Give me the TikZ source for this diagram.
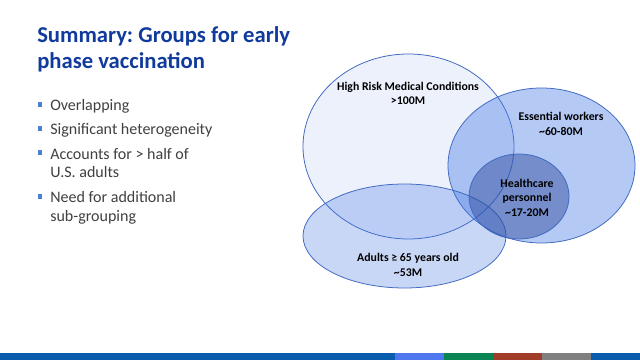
\documentclass[tikz,border=0pt]{standalone}
\usepackage{fontspec}
\setmainfont{Carlito}
\frenchspacing
\begin{document}
\begin{tikzpicture}[x=0.25mm,y=-0.25mm,
  setcircle/.style={draw=setline, line width=0.55pt},
  vlabel/.style={align=center, font=\fontsize{8.4}{10.3}\selectfont\bfseries, text=black, inner sep=0pt},
  btext/.style={anchor=base west, align=left, font=\fontsize{11.4}{13.2}\selectfont, text=bodygray, inner sep=0pt},
  bsq/.style={fill=bulletblue, minimum size=3.2pt, inner sep=0pt, draw=none},
  barseg/.style={draw=none}]
\definecolor{titleblue}{RGB}{16,58,156}
\definecolor{bodygray}{RGB}{64,64,64}
\definecolor{bulletblue}{RGB}{74,127,216}
\definecolor{setline}{RGB}{64,105,192}
\definecolor{setfill}{RGB}{70,120,230}
\definecolor{hcfill}{RGB}{40,70,150}
\definecolor{barblue}{RGB}{10,92,173}
\definecolor{barlight}{RGB}{79,120,240}
\definecolor{bargreen}{RGB}{11,132,84}
\definecolor{barred}{RGB}{160,60,40}
\definecolor{bargray}{RGB}{128,128,128}
\useasboundingbox (0,0) rectangle (640,360);
\fill[white] (0,0) rectangle (640,360);
% title (base anchor = last line)
\node[anchor=base west, align=left, inner sep=0pt, text=titleblue,
  font=\fontsize{16.1}{19.2}\selectfont\bfseries] (title) at (37,69)
  {Summary: Groups for early\\phase vaccination};
% bullets
\node[bsq] (b1) at (40,104.5) {};
\node[btext] (t1) at (50,111) {Overlapping};
\node[bsq] (b2) at (40,128.5) {};
\node[btext] (t2) at (50,135) {Significant heterogeneity};
\node[bsq] (b3) at (40,152.5) {};
\node[btext] (t3) at (50,178) {Accounts for > half of\\U.S. adults};
\node[bsq] (b4) at (40,196.5) {};
\node[btext] (t4) at (50,221) {Need for additional\\sub-grouping};
% venn
\fill[setfill, fill opacity=0.1] (408.5,146.5) ellipse [x radius=105.5, y radius=92.5];
\draw[setcircle] (408.5,146.5) ellipse [x radius=105.5, y radius=92.5];
\fill[setfill, fill opacity=0.4] (541.5,165.5) ellipse [x radius=93.5, y radius=77.5];
\draw[setcircle] (541.5,165.5) ellipse [x radius=93.5, y radius=77.5];
\fill[setfill, fill opacity=0.29] (404.5,236) ellipse [x radius=101.5, y radius=52];
\draw[setcircle] (404.5,236) ellipse [x radius=101.5, y radius=52];
\fill[hcfill, fill opacity=0.45] (519,196.5) ellipse [x radius=50, y radius=42.5];
\draw[setcircle] (519,196.5) ellipse [x radius=50, y radius=42.5];
\node[vlabel] (hr) at (408,93.5) {High Risk Medical Conditions\\>100M};
\node[vlabel] (ew) at (561,124) {Essential workers\\\textasciitilde60-80M};
\node[vlabel] (hc) at (527,197.5) {Healthcare\\personnel\\\textasciitilde17-20M};
\node[vlabel] (ad) at (408,265) {Adults ≥ 65 years old\\\textasciitilde53M};
% bottom bar
\fill[barblue] (0,353.3) rectangle (395,360);
\fill[barlight] (395,353.3) rectangle (444,360);
\fill[bargreen] (444,353.3) rectangle (493,360);
\fill[barred] (493,353.3) rectangle (542,360);
\fill[bargray] (542,353.3) rectangle (591,360);
\fill[barblue] (591,353.3) rectangle (640,360);
\end{tikzpicture}
\end{document}
